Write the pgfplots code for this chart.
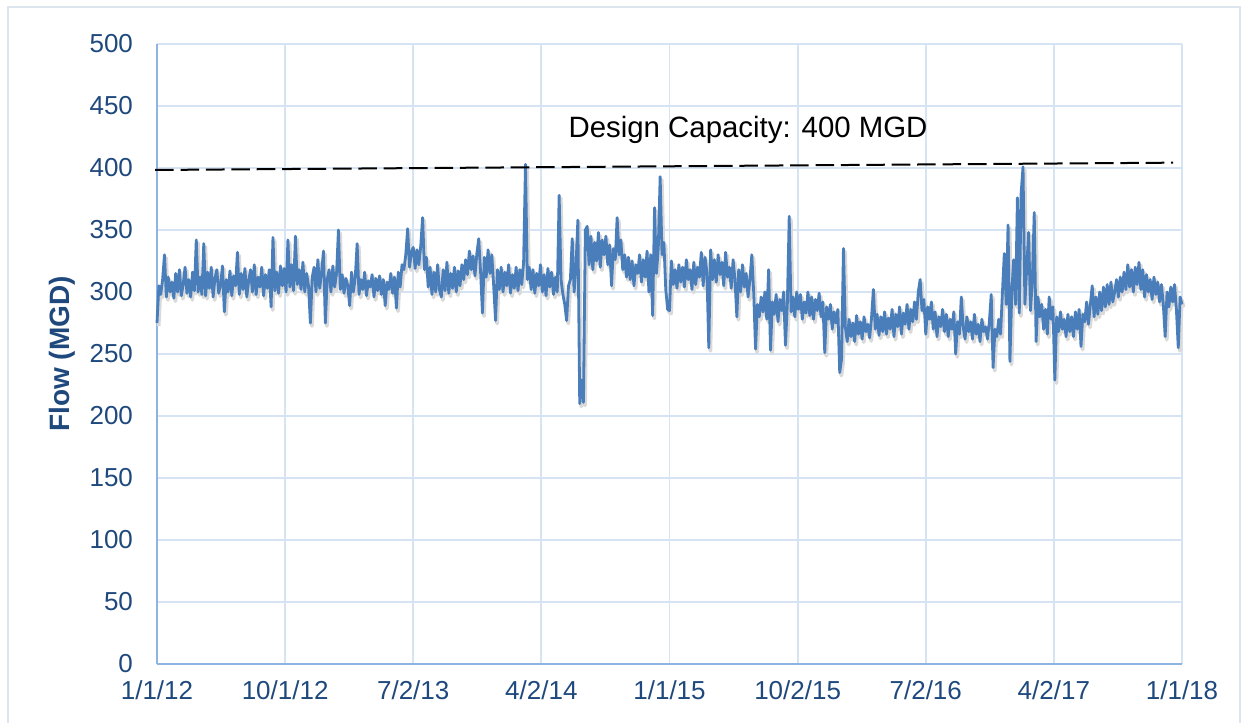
\documentclass[border=0pt]{standalone}
\usepackage{fontspec}
\setmainfont{Liberation Sans}
\usepackage{pgfplots}
\pgfplotsset{compat=1.18}
\usepackage{pgfplotstable}
\definecolor{tickblue}{HTML}{1F497D}
\definecolor{gridblue}{HTML}{D6E3F3}
\definecolor{axisblue}{HTML}{8EB4E3}
\definecolor{lineblue}{HTML}{4A7EBB}
\definecolor{framecol}{HTML}{DCE4EE}

% daily flow sampled every 4 days from 1/1/12
\pgfplotstableread{
flow
275
305
298
310
330
296
312
300
308
295
315
300
318
297
306
320
299
310
296
316
301
342
300
312
298
339
297
316
303
320
296
311
318
299
306
321
284
310
300
317
297
313
305
332
298
315
302
319
296
309
318
300
322
298
312
304
320
297
314
303
318
288
344
301
316
299
321
305
319
300
342
304
322
301
345
306
318
302
324
300
315
305
275
312
320
300
326
303
316
333
275
310
318
300
321
304
315
350
302
314
299
311
305
289
316
300
312
339
298
310
302
316
297
309
304
314
296
311
301
313
298
310
289
308
302
315
299
312
287
316
304
322
318
330
351
320
332
336
319
334
322
337
360
318
328
304
320
298
316
300
322
302
296
318
301
324
299
315
303
320
300
317
305
322
310
326
314
333
318
329
313
331
343
316
283
328
312
334
315
330
305
277
318
302
320
300
316
305
322
299
314
303
320
301
318
306
324
403
310
320
302
318
299
315
305
322
300
314
297
319
304
316
298
312
300
378
310
298
290
277
305
310
343
300
320
358
210
229
211
350
353
322
345
318
340
325
348
320
342
330
345
322
338
305
335
326
360
330
342
318
330
312
328
310
325
305
322
315
330
308
326
312
333
300
330
281
368
315
335
393
330
340
302
286
285
325
306
318
303
322
308
320
304
326
310
318
302
324
306
320
312
332
305
328
316
255
334
310
326
308
330
314
324
305
332
312
320
303
326
310
280
318
300
322
304
315
296
310
330
300
254
290
280
296
284
300
278
318
253
292
282
298
276
294
285
300
257
290
361
284
296
280
300
286
298
278
292
283
300
281
296
278
294
285
299
280
292
251
288
278
290
270
284
275
286
235
246
335
272
260
278
264
275
260
281
266
276
262
280
268
274
263
279
302
270
282
265
280
268
284
266
279
270
286
264
282
272
288
266
283
274
290
270
286
276
292
278
300
310
285
294
266
288
278
292
270
284
264
280
272
286
268
282
264
278
270
284
250
276
266
296
272
262
280
268
276
262
282
266
274
260
278
268
272
262
276
298
239
270
264
278
266
300
331
290
354
244
300
326
290
376
283
380
401
290
320
348
285
310
364
260
296
280
290
270
286
266
296
278
288
229
280
268
284
270
278
264
282
268
280
264
284
270
286
256
282
276
292
274
290
305
280
296
282
300
285
304
288
306
290
308
292
300
310
296
312
300
316
302
322
304
318
300
320
306
324
302
318
296
314
300
310
294
312
298
308
292
306
290
264
300
288
304
292
306
286
255
296
290
}\flowdata

\begin{document}
\begin{tikzpicture}
\useasboundingbox (0,0) rectangle (624pt,361.5pt);
\draw[framecol, line width=1pt] (4pt,-3pt) -- (4pt,358pt) -- (620pt,358pt) -- (620pt,-3pt);
\begin{axis}[
  at={(78.5pt,29.5pt)}, anchor=south west,
  scale only axis, width=512.5pt, height=310pt,
  xmin=0, xmax=2192, ymin=0, ymax=500,
  xtick={0,274,...,2192},
  xticklabels={1/1/12,10/1/12,7/2/13,4/2/14,1/1/15,10/2/15,7/2/16,4/2/17,1/1/18},
  ytick={0,50,...,500},
  axis lines=left,
  axis line style={-, axisblue, line width=1pt},
  major tick length=0pt,
  grid=major,
  major grid style={gridblue, line width=0.9pt},
  ticklabel style={font=\fontsize{13}{15}\selectfont, text=tickblue},
  /pgf/number format/assume math mode=true,
  yticklabel style={xshift=-8.5pt},
  xticklabel style={yshift=-5pt},
  ylabel={Flow (MGD)},
  ylabel style={font=\bfseries\fontsize{14}{16}\selectfont, text=tickblue,
    at={(axis description cs:-0.0927,0.5)}, anchor=center},
  clip=false,
]
\addplot[black!15, line width=1.9pt, line join=round, transform canvas={xshift=0.8pt,yshift=-1.5pt}]
  table[x expr=\coordindex*4, y=flow] {\flowdata};
\addplot[lineblue, line width=1.4pt, line join=round]
  table[x expr=\coordindex*4, y=flow] {\flowdata};
\addplot[black, line width=1pt, dash pattern=on 9.3pt off 3.4pt]
  coordinates {(-4,398.4) (2173,404.3)};
\node[font=\fontsize{14.7}{17}\selectfont] at (axis cs:1264,431) {Design Capacity: 400 MGD};
\end{axis}
\end{tikzpicture}
\end{document}
